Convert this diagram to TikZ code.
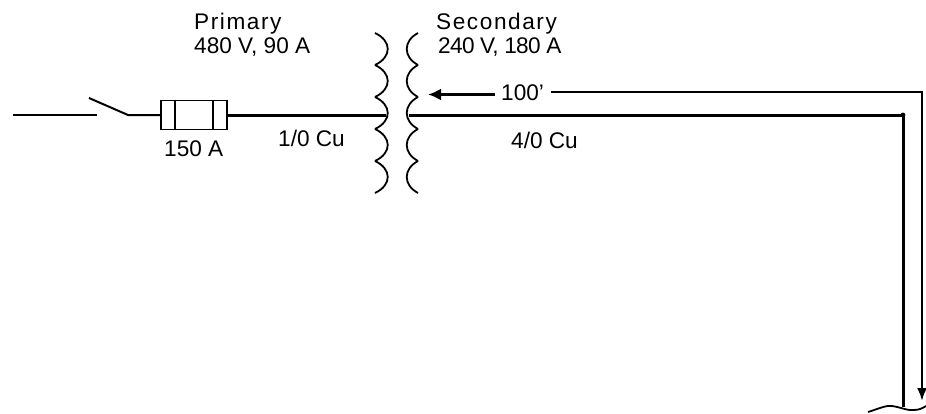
\documentclass[tikz,border=0pt]{standalone}
\usepackage{fontspec}
\setmainfont{Liberation Sans}
\usetikzlibrary{arrows.meta,positioning,calc}

\tikzset{
  label/.style={anchor=base west, inner sep=0pt, font=\fontsize{22.6}{24}\selectfont},
  wide/.style={label, font=\fontsize{22.6}{24}\selectfont\addfontfeature{LetterSpace=7}},
  tight/.style={label, font=\fontsize{22.6}{24}\selectfont\addfontfeature{LetterSpace=-3}},
  thin wire/.style={line width=2pt},
  wire/.style={line width=3pt},
  lead/.style={line width=2.4pt},
  coil/.style={line width=1.8pt},
  fusebox/.style={draw, line width=1.8pt, minimum width=66pt, minimum height=29pt, inner sep=0pt},
}

\begin{document}
\begin{tikzpicture}[x=1pt,y=-1pt]
  \useasboundingbox (0,0) rectangle (926,413);

  % Define nodes
  \coordinate (line) at (13,115);
  \coordinate (sw1) at (97,115);
  \coordinate (blade) at (89,98);
  \coordinate (sw2) at (128,115);
  \node[fusebox] (fuse) at (194,115) {};
  \coordinate (pri) at (386,115);
  \coordinate (sec) at (409,115);
  \coordinate (bend) at (903,115);
  \coordinate (bottom) at (903,407);
  \coordinate (tip) at (428,94.5);
  \coordinate (dimL) at (495,94.5);
  \coordinate (dimR) at (551,92);
  \coordinate (corner) at (922,92);
  \coordinate (end) at (922,401);

  \node[wide] (primary) at (194,29) {Primary};
  \node[label] (privolt) at (194,53) {480 V, 90 A};
  \node[label] (rating) at (164,156) {150 A};
  \node[label] (pricable) at (278,146) {1/0 Cu};
  \node[wide] (secondary) at (436,29) {Secondary};
  \node[tight] (secvolt) at (438,53) {240 V, 180 A};
  \node[label] (length) at (501,100) {100'};
  \node[label] (seccable) at (511,148) {4/0 Cu};

  % Draw fuse
  \draw[line width=1.8pt] ($(fuse.north west)+(15,0)$) -- ($(fuse.south west)+(15,0)$);
  \draw[line width=1.8pt] ($(fuse.north east)+(-15,0)$) -- ($(fuse.south east)+(-15,0)$);

  % Draw coils
  \foreach \y in {33,65,97,129,161} {
    \draw[coil] (375,\y) .. controls (392,\y+8) and (392,\y+24) .. (375,\y+32);
    \draw[coil] (418,\y) .. controls (403,\y+8) and (403,\y+24) .. (418,\y+32);
  }

  % Draw edges
  \draw[thin wire] (line) -- (sw1);
  \draw[thin wire] (blade) -- (sw2) -- (fuse.west);
  \draw[wire] (fuse.east) -- (pri);
  \draw[wire] (sec) -- (bend) -- (bottom);
  \fill (bend) circle (2.4pt);
  \draw[lead, -{Latex[length=13pt,width=12pt]}] (dimL) -- (tip);
  \draw[lead, -{Latex[length=13pt,width=10pt]}] (dimR) -- (corner) -- (end);

  % Break line
  \draw[coil] (868,412) .. controls (878,409) and (886,405) .. (892,406)
    .. controls (900,407) and (908,411) .. (914,410) .. controls (919,410) and (923,408) .. (926,406);
\end{tikzpicture}
\end{document}
